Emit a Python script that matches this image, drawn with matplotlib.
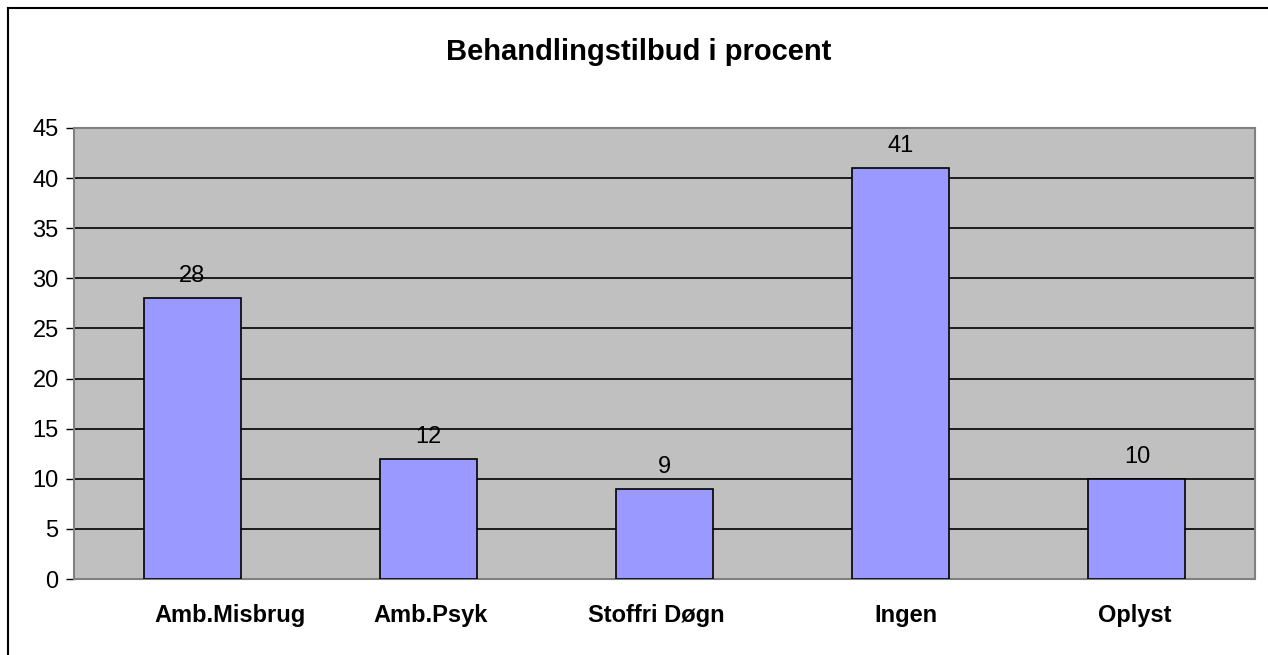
import matplotlib.pyplot as plt
from matplotlib.lines import Line2D
from matplotlib.transforms import blended_transform_factory, offset_copy

plt.rcParams['font.family'] = ['Liberation Sans', 'DejaVu Sans']

categories = ["Amb.Misbrug", "Amb.Psyk", "Stoffri Døgn", "Ingen", "Oplyst"]
values = [28, 12, 9, 41, 10]
yticks = [0, 5, 10, 15, 20, 25, 30, 35, 40, 45]
# the first category label sits a little right of its bar in the original
label_shift_px = [38, 2, -8, 5, -2]

fig = plt.figure(figsize=(12.68, 6.55), dpi=100)
ax = fig.add_axes([74 / 1268, 1 - 579 / 655, (1255 - 74) / 1268, (579 - 128) / 655])

# outer chart frame (right/bottom edge fall outside the picture)
fig.add_artist(Line2D([8 / 1268, 8 / 1268], [0, 1 - 8 / 655], color="black", lw=1.5))
fig.add_artist(Line2D([8 / 1268, 1], [1 - 8 / 655, 1 - 8 / 655], color="black", lw=1.5))

ax.set_facecolor("#C0C0C0")
x = range(len(categories))
ax.bar(x, values, width=0.41, color="#9999FF", edgecolor="black", linewidth=1.2, zorder=3)

for xi, v in zip(x, values):
    ax.annotate(str(v), (xi, v), xytext=(0, 8), textcoords="offset points",
                ha="center", va="bottom", fontsize=17, zorder=4)

ax.set_xlim(-0.5, len(categories) - 0.5)
ax.set_ylim(0, 45)
ax.set_yticks(yticks)
ax.yaxis.grid(True, color="black", lw=1.2, zorder=1)
ax.set_axisbelow(True)
ax.tick_params(axis="y", length=6, width=1, color="black", labelsize=17, pad=5)
ax.set_xticks([])
for s in ax.spines.values():
    s.set_color("#808080")
    s.set_linewidth(1.5)

# category labels
trans = blended_transform_factory(ax.transData, ax.transAxes)
for xi, lab, dx in zip(x, categories, label_shift_px):
    t = offset_copy(trans, fig=fig, x=dx * 72 / 100, y=-43 * 72 / 100, units="points")
    ax.text(xi, 0, lab, transform=t, ha="center", va="baseline",
            fontsize=17, fontweight="bold", clip_on=False)

fig.text(639 / 1268, 1 - 52 / 655, "Behandlingstilbud i procent", ha="center", va="center",
         fontsize=21, fontweight="bold")

fig.savefig("out.png", dpi=100)
